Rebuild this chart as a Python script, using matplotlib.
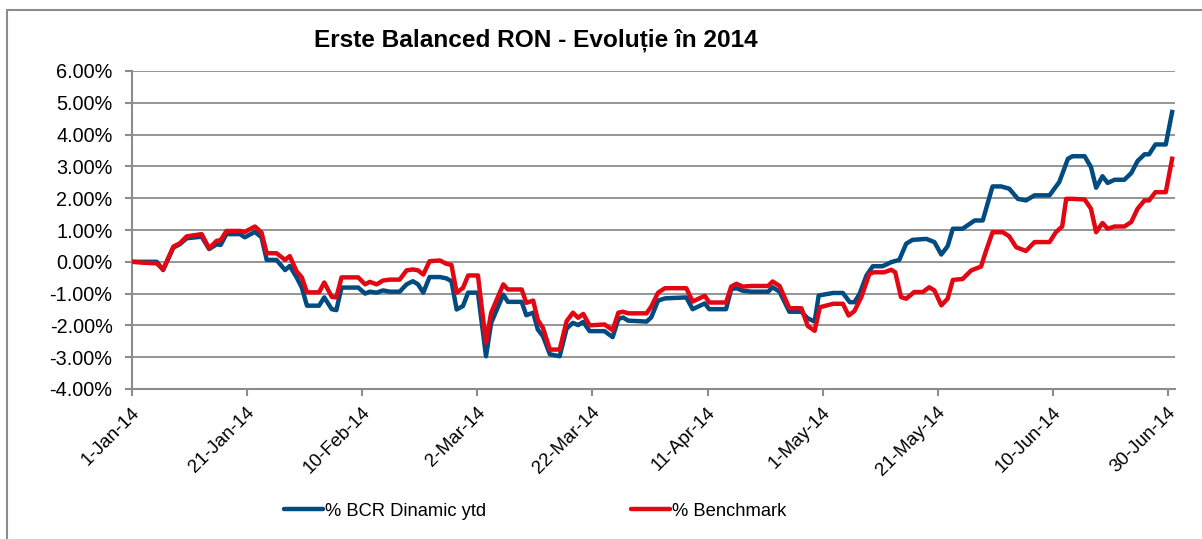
import matplotlib
matplotlib.use("Agg")
import matplotlib.pyplot as plt
from matplotlib.patches import Rectangle
from matplotlib.lines import Line2D
from matplotlib.ticker import FuncFormatter, FixedLocator
from matplotlib.transforms import ScaledTranslation

plt.rcParams['font.family'] = ['Liberation Sans', 'DejaVu Sans']

title = "Erste Balanced RON - Evoluție în 2014"
series_names = ["% BCR Dinamic ytd", "% Benchmark"]

# x = days since 1-Jan-2014
tick_days = [0, 20, 40, 60, 80, 100, 120, 140, 160, 180]
tick_labels = ["1-Jan-14", "21-Jan-14", "10-Feb-14", "2-Mar-14", "22-Mar-14",
               "11-Apr-14", "1-May-14", "21-May-14", "10-Jun-14", "30-Jun-14"]
y_ticks = [-4, -3, -2, -1, 0, 1, 2, 3, 4, 5, 6]

bcr_days = [0, 4.3, 5.4, 7.2, 8.3, 9.5, 12.1, 13.4, 14.7, 15.4, 16.4, 18.75, 19.6, 21.35, 22.5,
            23.4, 25.1, 26.6, 27.4, 28.6, 29.5, 30.4, 32.5, 33.4, 34.7, 35.5, 36.4, 39.3, 40.5,
            41.3, 42.5, 43.6, 44.8, 46.5, 47.7, 48.8, 49.7, 50.6, 51.7, 53.5, 54.6, 55.5, 56.4,
            57.5, 58.4, 60.1, 61.5, 62.4, 64.5, 65.3, 67.7, 68.5, 69.7, 70.5, 71.4, 72.6, 74.3,
            75.5, 76.6, 77.5, 78.4, 79.5, 82.1, 83.5, 84.5, 85.3, 86.2, 89.4, 90.2, 91.4, 92.6,
            96.3, 97.4, 99.5, 100.3, 103.2, 104.1, 105, 106.1, 107.6, 110.5, 111.3, 112.5, 114.2,
            116.3, 117.4, 118.6, 119.3, 121.8, 123.5, 124.7, 125.5, 126.4, 127.6, 128.7, 130.4,
            131.9, 133.3, 134.5, 135.6, 138, 139.4, 140.6, 141.7, 142.6, 144.3, 146.4, 147.8,
            149.5, 151, 152.4, 153.9, 155.3, 156.8, 159.4, 161.1, 162.6, 163.4, 165.5, 166.6,
            167.5, 168.6, 169.5, 170.7, 172.4, 173.6, 174.7, 175.9, 176.7, 177.8, 179.6, 180.7]
bcr_vals = [0.00, 0.00, -0.26, 0.45, 0.55, 0.74, 0.79, 0.40, 0.55, 0.53, 0.87, 0.87, 0.77, 0.94, 0.77,
            0.06, 0.06, -0.26, -0.13, -0.49, -0.81, -1.38, -1.38, -1.12, -1.49, -1.52, -0.81, -0.81, -1.00,
            -0.94, -0.97, -0.90, -0.94, -0.94, -0.71, -0.61, -0.71, -0.97, -0.48, -0.48, -0.52, -0.61, -1.50,
            -1.39, -0.97, -0.97, -2.97, -1.92, -1.03, -1.26, -1.26, -1.68, -1.60, -2.13, -2.34, -2.91, -2.97,
            -2.10, -1.92, -1.99, -1.89, -2.18, -2.18, -2.37, -1.80, -1.75, -1.85, -1.88, -1.75, -1.22, -1.15,
            -1.12, -1.49, -1.31, -1.49, -1.49, -0.86, -0.83, -0.91, -0.94, -0.94, -0.80, -0.94, -1.57,
            -1.57, -1.78, -1.88, -1.06, -0.98, -0.98, -1.27, -1.27, -1.01, -0.43, -0.14, -0.14,
            -0.01, 0.06, 0.57, 0.69, 0.72, 0.62, 0.23, 0.49, 1.04, 1.04, 1.30, 1.30,
            2.37, 2.37, 2.30, 1.98, 1.93, 2.09, 2.09, 2.51, 3.24, 3.32, 3.32, 2.98,
            2.33, 2.69, 2.48, 2.58, 2.58, 2.79, 3.17, 3.38, 3.38, 3.69, 3.69, 4.71]

bench_days = [0, 2, 4.3, 5.4, 7.2, 8.3, 9.5, 12.1, 13.4, 14.7, 15.4, 16.4, 18.75, 19.6, 21.35, 22.5,
              23.4, 25.1, 26.6, 27.4, 28.6, 29.5, 30.4, 32.5, 33.4, 34.7, 35.5, 36.4, 39.3, 40.5,
              41.3, 42.5, 43.6, 44.8, 46.5, 47.7, 48.8, 49.7, 50.6, 51.7, 53.5, 54.6, 55.5, 56.4,
              57.5, 58.4, 60.1, 61.5, 62.4, 64.5, 65.3, 67.7, 68.5, 69.7, 70.5, 71.4, 72.6, 74.3,
              75.5, 76.6, 77.5, 78.4, 79.5, 82.1, 83.5, 84.5, 85.3, 86.2, 89.4, 90.2, 91.4, 92.6,
              96.3, 97.4, 99.5, 100.3, 103.2, 104.1, 105, 106.1, 107.6, 110.5, 111.3, 112.5, 114.2,
              116.3, 117.4, 118.6, 119.5, 121.8, 123.5, 124.5, 125.5, 126.7, 128.1, 128.9, 130.7,
              131.9, 132.6, 133.6, 134.5, 135.9, 137.4, 138.5, 139.4, 140.6, 141.7, 142.6, 144.3,
              145.8, 147.5, 148.4, 149.5, 151.3, 152.4, 153.6, 155.3, 156.8, 159.4, 160.5, 161.6,
              162.3, 163.4, 165.5, 166.6, 167.5, 168.6, 169.5, 170.7, 172.4, 173.6, 174.7, 175.9,
              176.7, 177.8, 179.6, 180.7]
bench_vals = [0.00, -0.03, -0.05, -0.24, 0.48, 0.58, 0.80, 0.87, 0.42, 0.66, 0.68, 0.97, 0.97, 0.94, 1.11, 0.92,
              0.27, 0.27, 0.06, 0.18, -0.30, -0.49, -0.96, -0.96, -0.65, -1.10, -1.12, -0.49, -0.49, -0.71,
              -0.63, -0.71, -0.59, -0.56, -0.56, -0.27, -0.24, -0.27, -0.40, 0.02, 0.04, -0.06, -0.10, -0.97,
              -0.82, -0.43, -0.43, -2.55, -1.60, -0.71, -0.87, -0.87, -1.29, -1.22, -1.83, -2.08, -2.76, -2.76,
              -1.87, -1.60, -1.76, -1.64, -2.00, -1.97, -2.15, -1.60, -1.57, -1.62, -1.62, -1.41, -0.97, -0.83,
              -0.83, -1.25, -1.07, -1.28, -1.28, -0.78, -0.69, -0.78, -0.76, -0.76, -0.62, -0.76, -1.46,
              -1.46, -2.02, -2.17, -1.43, -1.32, -1.32, -1.69, -1.55, -1.11, -0.38, -0.33, -0.33,
              -0.25, -0.33, -1.11, -1.16, -0.95, -0.95, -0.80, -0.90, -1.37, -1.16, -0.57, -0.54,
              -0.27, -0.15, 0.36, 0.93, 0.93, 0.80, 0.46, 0.34, 0.62, 0.62, 0.93, 1.11,
              1.98, 1.98, 1.96, 1.67, 0.93, 1.22, 1.04, 1.11, 1.11, 1.25, 1.67, 1.93,
              1.93, 2.19, 2.19, 3.24]

BLUE = "#004b7f"
RED = "#e30613"
GRAY = "#8c8c8c"

W, H = 1202, 539
fig = plt.figure(figsize=(W / 100, H / 100), dpi=100)
fig.patch.set_facecolor("white")

# outer chart frame
fig.add_artist(Rectangle((7 / W, -0.1), 1.2, 1 - 10 / H + 0.1, transform=fig.transFigure,
                         fill=False, edgecolor=GRAY, lw=1.5))

ax = fig.add_axes([132 / W, 1 - 389 / H, 1043 / W, (389 - 71) / H])
ax.plot(bcr_days, bcr_vals, color=BLUE, lw=3.2, solid_joinstyle='round', zorder=3)
ax.plot(bench_days, bench_vals, color=RED, lw=3.2, solid_joinstyle='round', zorder=4)

ax.set_xlim(0, 181.2)
ax.set_ylim(-4, 6)
ax.yaxis.set_major_locator(FixedLocator(y_ticks))
ax.yaxis.set_major_formatter(FuncFormatter(lambda v, p: f"{v:.2f}%"))
ax.set_xticks(tick_days)
ax.set_xticklabels(tick_labels, rotation=45, ha='right', va='center', rotation_mode='anchor')

ax.grid(axis='y', color=GRAY, lw=1.3)
ax.set_axisbelow(True)
for s in ['top', 'right']:
    ax.spines[s].set_visible(False)
for s in ['left', 'bottom']:
    ax.spines[s].set_color(GRAY)
    ax.spines[s].set_linewidth(1.5)
ax.tick_params(axis='both', direction='out', length=5, width=1.5, color=GRAY,
               labelcolor='black')
ax.tick_params(axis='y', pad=9, labelsize=14.3)
ax.tick_params(axis='x', pad=10, labelsize=13.5)
shift = ScaledTranslation(5 / 100, 0, fig.dpi_scale_trans)
for lbl in ax.get_xticklabels():
    lbl.set_transform(lbl.get_transform() + shift)

fig.text(536 / W, 1 - 40 / H, title, ha='center', va='center', fontsize=17.6,
         fontweight='bold')

handles = [Line2D([], [], color=BLUE, lw=3.2, solid_capstyle='round'),
           Line2D([], [], color=RED, lw=3.2, solid_capstyle='round')]
fig.legend(handles, series_names, loc='center left', bbox_to_anchor=(284 / W, 1 - 511 / H),
           ncol=2, frameon=False, fontsize=13.2, handlelength=2.1, handletextpad=0.15,
           columnspacing=7.9, borderpad=0, borderaxespad=0)

fig.savefig("out.png", dpi=100, facecolor='white')
